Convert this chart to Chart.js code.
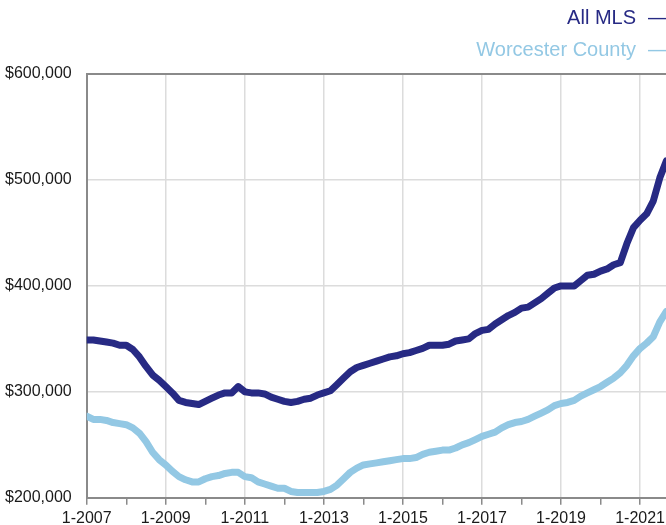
<!DOCTYPE html>
<html>
<head>
<meta charset="utf-8">
<script src="https://cdn.jsdelivr.net/npm/chart.js@4.4.1/dist/chart.umd.min.js"></script>
<style>
    html, body { margin: 0; padding: 0; background: #fff; }
    #wrap { width: 666px; height: 525px; overflow: hidden; position: relative; }
    canvas { display: block; }
</style>
</head>
<body>
<div id="wrap"><canvas id="chart" width="690" height="532"></canvas></div>
<script>
// months since 1-2007, sampled every 2 months
const startYear = 2007;
const stepMonths = 2;

// median price, in $ thousands
const allMls = [
    349, 349, 348, 347, 346, 344, 344, 340, 333, 324,
    316, 311, 305, 299, 292, 290, 289, 288, 291, 294,
    297, 299, 299, 305, 300, 299, 299, 298, 295, 293,
    291, 290, 291, 293, 294, 297, 299, 301, 307, 313,
    319, 323, 325, 327, 329, 331, 333, 334, 336, 337,
    339, 341, 344, 344, 344, 345, 348, 349, 350, 355,
    358, 359, 364, 368, 372, 375, 379, 380, 384, 388,
    393, 398, 400, 400, 400, 405, 410, 411, 414, 416,
    420, 422, 440, 455, 462, 468, 480, 502, 518
];
const worcester = [
    277, 274, 274, 273, 271, 270, 269, 266, 261, 253,
    243, 236, 231, 225, 220, 217, 215, 215, 218, 220,
    221, 223, 224, 224, 220, 219, 215, 213, 211, 209,
    209, 206, 205, 205, 205, 205, 206, 208, 212, 218,
    224, 228, 231, 232, 233, 234, 235, 236, 237, 237,
    238, 241, 243, 244, 245, 245, 247, 250, 252, 255,
    258, 260, 262, 266, 269, 271, 272, 274, 277, 280,
    283, 287, 289, 290, 292, 296, 299, 302, 305, 309,
    313, 318, 325, 334, 341, 346, 352, 366, 376
];

const seriesNames = ['All MLS', 'Worcester County'];
const seriesColors = ['#272a84', '#93c8e4'];
const yTicks = [200000, 300000, 400000, 500000, 600000];

const toPoints = arr => arr.map((v, i) => ({ x: i * stepMonths, y: v * 1000 }));

const FONT = "'Liberation Sans', Arial, sans-serif";

const legendPlugin = {
    id: 'rightLegend',
    afterDraw(chart) {
        const ctx = chart.ctx;
        ctx.save();
        ctx.font = `20px ${FONT}`;
        ctx.textBaseline = 'middle';
        const rows = [18, 50];
        seriesNames.forEach((name, i) => {
            ctx.fillStyle = seriesColors[i];
            ctx.textAlign = 'right';
            ctx.fillText(name, 636, rows[i]);
            ctx.textAlign = 'left';
            ctx.fillText('\u2014', 648, rows[i]);
        });
        ctx.restore();
    }
};

new Chart(document.getElementById('chart'), {
    type: 'line',
    data: {
        datasets: [
            { label: seriesNames[0], data: toPoints(allMls), borderColor: seriesColors[0], borderWidth: 7 },
            { label: seriesNames[1], data: toPoints(worcester), borderColor: seriesColors[1], borderWidth: 7 }
        ]
    },
    options: {
        responsive: false,
        animation: false,
        devicePixelRatio: 1,
        layout: { padding: { top: 74, left: 5, right: 17, bottom: 0 } },
        elements: {
            point: { radius: 0 },
            line: { tension: 0, borderJoinStyle: 'round', borderCapStyle: 'round' }
        },
        plugins: { legend: { display: false }, tooltip: { enabled: false } },
        scales: {
            x: {
                type: 'linear',
                min: 0,
                max: 178,
                afterBuildTicks: scale => {
                    scale.ticks = [];
                    for (let m = 0; m <= 168; m += 12) scale.ticks.push({ value: m });
                },
                grid: {
                    color: c => (c.tick && c.tick.value % 24 === 0 && c.tick.value > 0) ? '#dcdcdc' : 'transparent',
                    tickColor: '#8a8a8a',
                    lineWidth: 1.5,
                    tickLength: 7
                },
                border: { color: '#8a8a8a', width: 2 },
                ticks: {
                    autoSkip: false,
                    maxRotation: 0,
                    padding: 4,
                    color: '#1a1a1a',
                    font: { family: FONT, size: 16 },
                    callback: v => v % 24 === 0 ? '1-' + (startYear + v / 12) : ''
                }
            },
            y: {
                min: yTicks[0],
                max: yTicks[yTicks.length - 1],
                afterBuildTicks: scale => { scale.ticks = yTicks.map(v => ({ value: v })); },
                grid: {
                    color: c => c.tick && c.tick.value === 600000 ? '#8a8a8a' : '#dcdcdc',
                    lineWidth: c => c.tick && c.tick.value === 600000 ? 2 : 1.5,
                    drawTicks: false
                },
                border: { color: '#8a8a8a', width: 2 },
                ticks: {
                    crossAlign: 'far',
                    padding: 7.5,
                    color: '#1a1a1a',
                    font: { family: FONT, size: 16 },
                    callback: v => '$' + v.toLocaleString('en-US')
                }
            }
        }
    },
    plugins: [legendPlugin]
});
</script>
</body>
</html>
